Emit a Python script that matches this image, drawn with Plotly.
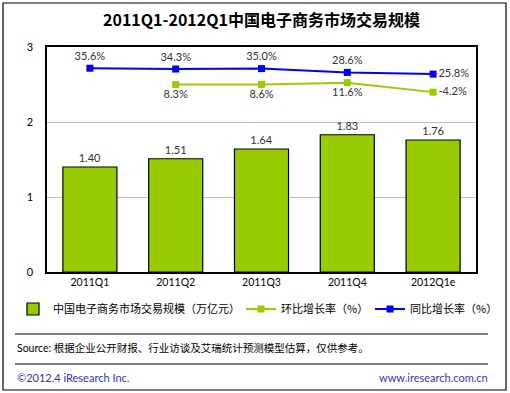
import plotly.graph_objects as go

quarters = ["2011Q1", "2011Q2", "2011Q3", "2011Q4", "2012Q1e"]
scale = [1.40, 1.51, 1.64, 1.83, 1.76]
qoq = [None, 8.3, 8.6, 11.6, -4.2]
yoy = [35.6, 34.3, 35.0, 28.6, 25.8]

W, H = 510, 393
L, R, T, B = 47, 34, 47, 121
PW, PH = W - L - R, H - T - B

def fx(px):
    return (px - L) / PW

def fy(py):
    return (H - B - py) / PH

FONT = "Lato, 'Noto Sans CJK SC', sans-serif"
CJK = "'Noto Sans CJK SC', Lato, sans-serif"
GREEN = "#99CC00"
BLUE = "#0000FF"

fig = go.Figure()
fig.add_trace(go.Bar(
    x=quarters, y=scale, name="中国电子商务市场交易规模（万亿元）", legend="legend",
    marker=dict(color=GREEN, line=dict(color="black", width=1.2)),
    text=[f"{v:.2f}" for v in scale], textposition="outside",
    textfont=dict(size=11, color="#333333", family=FONT),
    cliponaxis=False,
))
fig.add_trace(go.Scatter(
    x=quarters, y=qoq, name="环比增长率（%）", yaxis="y2", legend="legend2",
    mode="lines+markers+text",
    line=dict(color=GREEN, width=2),
    marker=dict(symbol="square", size=7, color=GREEN),
    text=[None if v is None else f"{v:.1f}%" for v in qoq],
    textposition=["bottom center"] * 4 + ["middle right"],
    textfont=dict(size=11, color="#333333", family=FONT),
    cliponaxis=False,
))
fig.add_trace(go.Scatter(
    x=quarters, y=yoy, name="同比增长率（%）", yaxis="y2", legend="legend3",
    mode="lines+markers+text",
    line=dict(color=BLUE, width=2),
    marker=dict(symbol="square", size=7, color=BLUE),
    text=[f"{v:.1f}%" for v in yoy],
    textposition=["top center"] * 4 + ["middle right"],
    textfont=dict(size=11, color="#333333", family=FONT),
    cliponaxis=False,
))

shapes = [
    dict(type="rect", xref="paper", yref="paper", x0=fx(3), x1=fx(506), y0=fy(390), y1=fy(3),
         line=dict(color="black", width=1.2), layer="below"),
    dict(type="line", xref="paper", yref="paper", x0=fx(15), x1=fx(488), y0=fy(334), y1=fy(334),
         line=dict(color="black", width=1.2)),
    dict(type="line", xref="paper", yref="paper", x0=fx(15), x1=fx(488), y0=fy(364), y1=fy(364),
         line=dict(color="black", width=1.2)),
]

annotations = [
    dict(xref="paper", yref="paper", x=fx(15), y=fy(348), xanchor="left", yanchor="middle",
         text="Source: 根据企业公开财报、行业访谈及艾瑞统计预测模型估算，仅供参考。",
         showarrow=False, font=dict(size=10.5, color="black", family=FONT)),
    dict(xref="paper", yref="paper", x=fx(15), y=fy(377), xanchor="left", yanchor="middle",
         text="©2012.4 iResearch Inc.", showarrow=False,
         font=dict(size=11, color="#3333CC", family=FONT)),
    dict(xref="paper", yref="paper", x=fx(490), y=fy(377), xanchor="right", yanchor="middle",
         text="www.iresearch.com.cn", showarrow=False,
         font=dict(size=11, color="#3333CC", family=FONT)),
]

def leg(px):
    return dict(orientation="h", x=fx(px), y=fy(309), xanchor="left", yanchor="middle",
                font=dict(size=11, color="black", family=CJK),
                bgcolor="rgba(0,0,0,0)", borderwidth=0)

fig.update_layout(
    width=W, height=H,
    margin=dict(l=L, r=R, t=T, b=B, autoexpand=False),
    paper_bgcolor="white", plot_bgcolor="white",
    title=dict(text="<b>2011Q1-2012Q1中国电子商务市场交易规模</b>", x=0.5, xref="paper",
               xanchor="center", y=1 - 20 / H, yanchor="middle",
               font=dict(size=16, color="black", family=CJK)),
    bargap=0.37,
    xaxis=dict(showline=True, mirror=True, linecolor="black", linewidth=1.5,
               showgrid=False, ticks="", tickfont=dict(size=10.5, color="black", family=FONT)),
    yaxis=dict(range=[0, 3], dtick=1, showline=True, mirror=True, linecolor="black", linewidth=1.5,
               showgrid=True, gridcolor="#C0C0C0", gridwidth=1, zeroline=False, ticks="",
               ticklabelstandoff=10, tickfont=dict(size=11, color="black", family=FONT)),
    yaxis2=dict(overlaying="y", range=[-304, 71], visible=False),
    legend=leg(13),
    legend2=leg(241),
    legend3=leg(370),
    showlegend=True,
    shapes=shapes, annotations=annotations,
)

fig.write_html("out.html", config={"displayModeBar": False},
               post_script="document.body.style.margin='0';document.body.style.overflow='hidden';")
